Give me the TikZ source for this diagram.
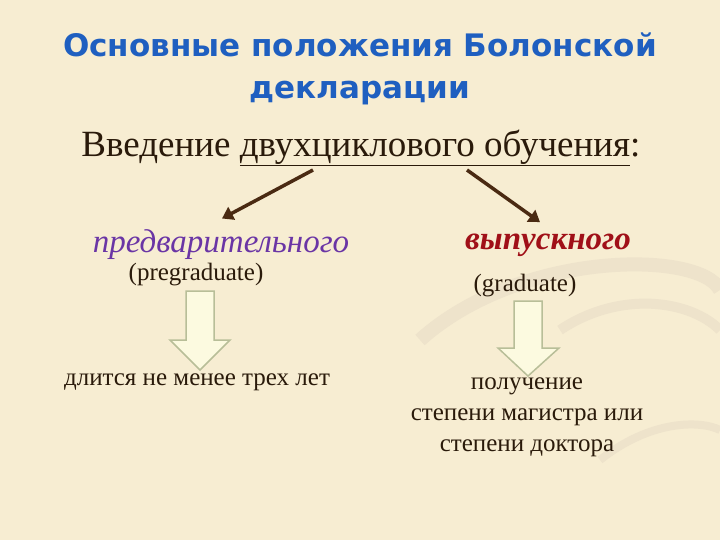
\documentclass[tikz,border=0pt]{standalone}
\usepackage{fontspec}
\setmainfont{Liberation Serif}
\newfontfamily\titlefont{DejaVu Sans}
\usetikzlibrary{arrows.meta}
\definecolor{bg}{HTML}{F7EDD2}
\definecolor{swirl}{HTML}{EEE3CB}
\definecolor{titleblue}{HTML}{1F5FC0}
\definecolor{txt}{HTML}{2A1A0A}
\definecolor{purp}{HTML}{6A35A5}
\definecolor{dred}{HTML}{A01018}
\definecolor{arr}{HTML}{4A2A12}
\definecolor{blockfill}{HTML}{FCFAE0}
\definecolor{blockline}{HTML}{B8BE98}
\tikzset{
  ttl/.style={font=\titlefont\bfseries\fontsize{31}{36}\selectfont, text=titleblue},
  small/.style={font=\fontsize{25}{31}\selectfont, text=txt, align=center},
  conn/.style={draw=arr, line width=3.5pt, -{Triangle[length=11pt,width=14pt]}},
  blockarr/.style={fill=blockfill, draw=blockline, line width=1.5pt}
}
\begin{document}
\begin{tikzpicture}[x=1pt,y=-1pt]
\useasboundingbox (0,0) rectangle (720,540);
\fill[bg] (0,0) rectangle (720,540);
\draw[swirl, line width=14pt] (420,340) .. controls (520,250) and (700,250) .. (720,290);
\draw[swirl, line width=10pt] (560,330) .. controls (620,290) and (690,300) .. (720,330);
\draw[swirl, line width=8pt] (600,460) .. controls (650,420) and (700,420) .. (720,430);
\node[ttl] (t1) at (360,45) {Основные положения Болонской};
\node[ttl] (t2) at (360,93) {декларации};
\node[font=\fontsize{37}{42}\selectfont, text=txt] (intro) at (361,148) {Введение \underline{двухциклового обучения}:};
\node[font=\itshape\fontsize{33}{38}\selectfont, text=purp] (pre) at (221,245) {предварительного};
\node[font=\itshape\bfseries\fontsize{33}{38}\selectfont, text=dred] (vyp) at (548,245) {выпускного};
\node[small] (preg) at (196,275) {(pregraduate)};
\node[small] (grad) at (525,286) {(graduate)};
\coordinate (a1s) at (313,170);
\coordinate (a2s) at (467,170);
\draw[conn] (a1s) -- ([xshift=1pt,yshift=8pt]pre.north);
\draw[conn] (a2s) -- ([xshift=-8pt,yshift=8pt]vyp.north);
\draw[blockarr] (186,291) -- (214,291) -- (214,340) -- (230,340) -- (200,370) -- (170,340) -- (186,340) -- cycle;
\draw[blockarr] (514,301) -- (542,301) -- (542,348) -- (559,348) -- (528,376) -- (498,348) -- (514,348) -- cycle;
\node[small] (left) at (197,382) {длится не менее трех лет};
\node[small] (right) at (527,417) {получение\\степени магистра или\\степени доктора};
\end{tikzpicture}
\end{document}
